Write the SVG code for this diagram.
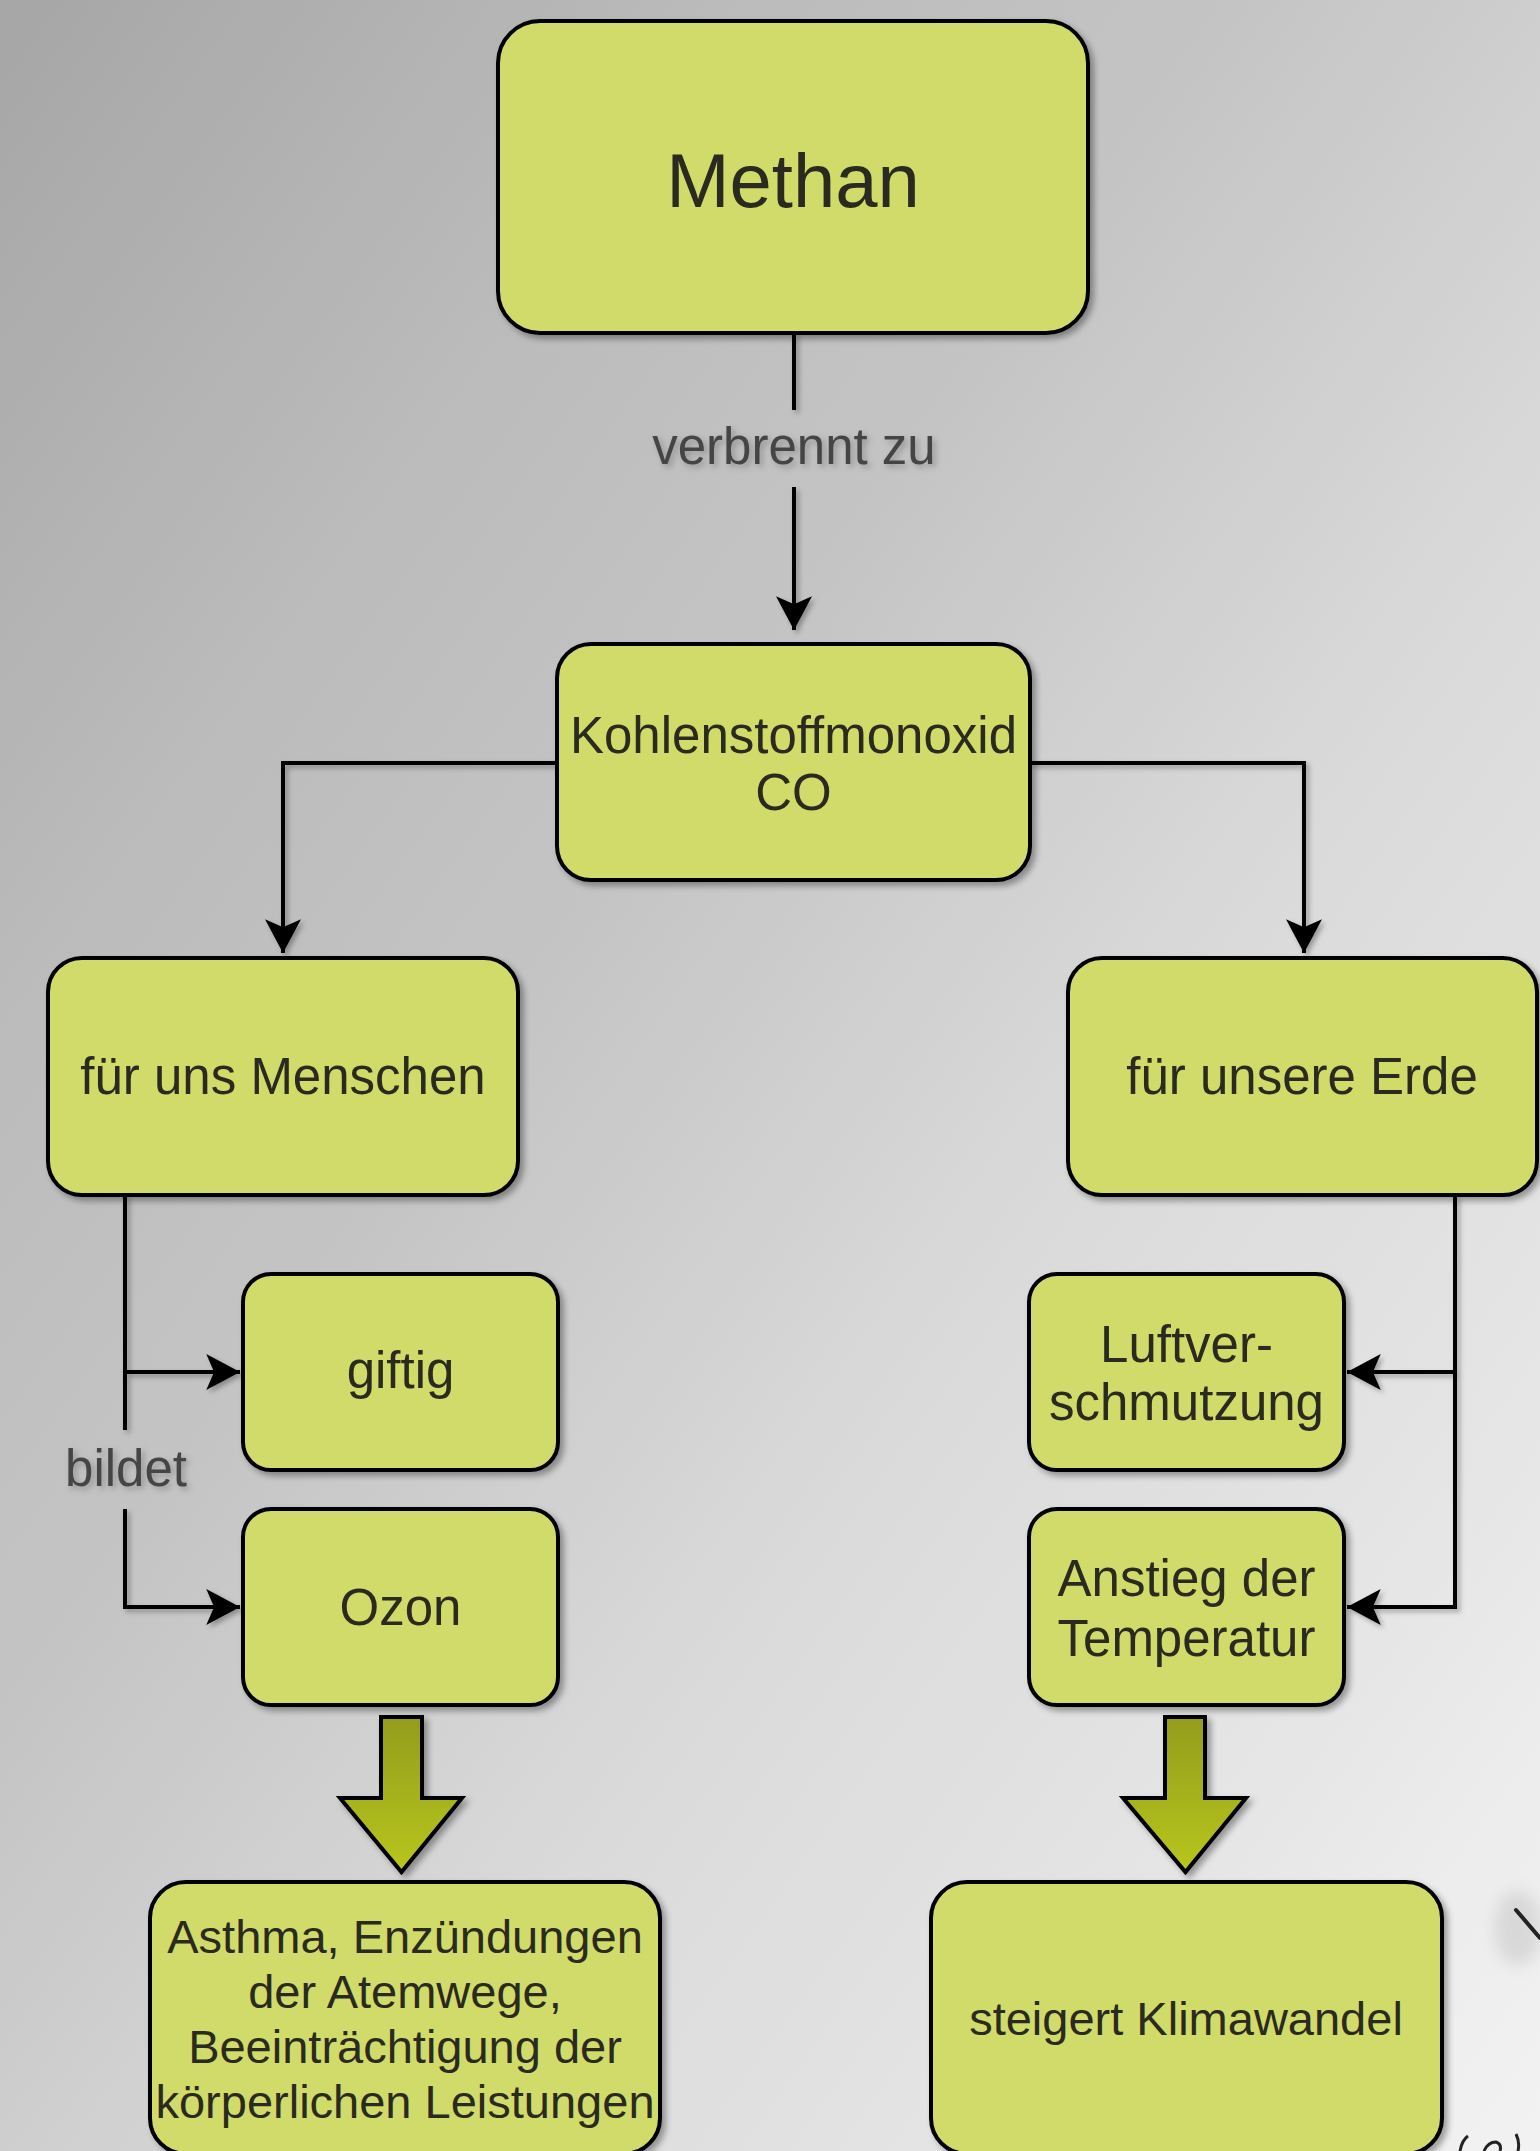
<svg xmlns="http://www.w3.org/2000/svg" width="1540" height="2151" viewBox="0 0 1540 2151">
<defs>
  <linearGradient id="bg" x1="0" y1="0" x2="1" y2="1">
    <stop offset="0" stop-color="#a6a6a6"/>
    <stop offset="0.25" stop-color="#bcbcbc"/>
    <stop offset="0.4" stop-color="#c4c4c4"/>
    <stop offset="0.52" stop-color="#d0d0d0"/>
    <stop offset="0.62" stop-color="#dadada"/>
    <stop offset="0.8" stop-color="#e4e4e4"/>
    <stop offset="0.93" stop-color="#eeeeee"/>
    <stop offset="1" stop-color="#f2f2f2"/>
  </linearGradient>
  <linearGradient id="blk" x1="0" y1="0" x2="0" y2="1">
    <stop offset="0" stop-color="#939d1f"/>
    <stop offset="1" stop-color="#b8c61a"/>
  </linearGradient>
  <filter id="sh" x="-10%" y="-10%" width="130%" height="130%">
    <feDropShadow dx="4" dy="4" stdDeviation="3" flood-color="#000" flood-opacity="0.35"/>
  </filter>
  <filter id="tsh" x="-20%" y="-40%" width="140%" height="180%">
    <feDropShadow dx="3" dy="3" stdDeviation="3" flood-color="#000" flood-opacity="0.25"/>
  </filter>
  <filter id="lsh" x="-50%" y="-50%" width="200%" height="200%">
    <feDropShadow dx="3" dy="3" stdDeviation="2.5" flood-color="#000" flood-opacity="0.3"/>
  </filter>
  <filter id="blur" x="-50%" y="-50%" width="200%" height="200%">
    <feGaussianBlur stdDeviation="8"/>
  </filter>
  <marker id="arr" markerUnits="userSpaceOnUse" markerWidth="34" markerHeight="36" viewBox="0 0 30 32" refX="30" refY="16" orient="auto">
    <path d="M0,0 L30,16 L0,32 L7,16 Z" fill="#000"/>
  </marker>
  <style>
    .box { fill: #d1db6b; stroke: #000; stroke-width: 4; filter: url(#sh); }
    .t { font-family: "Liberation Sans", Arial, sans-serif; font-size: 51px; fill: #2a2a20; text-anchor: middle; }
    .ts { font-size: 47px; }
    .lbl { font-family: "Liberation Sans", Arial, sans-serif; font-size: 51px; fill: #454545; text-anchor: middle; filter: url(#tsh); }
    .c { fill: none; stroke: #000; stroke-width: 4; }
    .big { fill: url(#blk); stroke: #000; stroke-width: 4; stroke-linejoin: miter; filter: url(#sh); }
  </style>
</defs>

<rect x="0" y="0" width="1540" height="2151" fill="url(#bg)"/>

<g id="connectors">
  <g filter="url(#lsh)">
    <path class="c" d="M794,333 V410"/>
    <path class="c" d="M794,487 V630" marker-end="url(#arr)"/>
    <path class="c" d="M557,763 H283 V953" marker-end="url(#arr)"/>
    <path class="c" d="M1030,763 H1304 V953" marker-end="url(#arr)"/>
    <path class="c" d="M125,1195 V1372 H240" marker-end="url(#arr)"/>
    <path class="c" d="M125,1372 V1430"/>
    <path class="c" d="M125,1509 V1607 H240" marker-end="url(#arr)"/>
    <path class="c" stroke="#3a3a3a" d="M1455,1195 V1607 H1347" marker-end="url(#arr)"/>
    <path class="c" d="M1455,1372 H1347" marker-end="url(#arr)"/>
  </g>
  <text class="lbl" x="794" y="464">verbrennt zu</text>
  <text class="lbl" x="126" y="1486">bildet</text>
</g>

<g id="node-methan">
  <rect class="box" x="498" y="21" width="590" height="312" rx="42" ry="42"/>
  <text class="t" x="793" y="207" style="font-size:76px">Methan</text>
</g>

<g id="node-co">
  <rect class="box" x="557" y="644" width="473" height="236" rx="34" ry="34"/>
  <text class="t" x="793.5" y="753">Kohlenstoffmonoxid</text>
  <text class="t" x="793.5" y="810">CO</text>
</g>

<g id="node-menschen">
  <rect class="box" x="48" y="958" width="470" height="237" rx="34" ry="34"/>
  <text class="t" x="283" y="1094">für uns Menschen</text>
</g>

<g id="node-erde">
  <rect class="box" x="1068" y="958" width="469" height="237" rx="34" ry="34"/>
  <text class="t" x="1302" y="1094">für unsere Erde</text>
</g>

<g id="node-giftig">
  <rect class="box" x="243" y="1274" width="315" height="196" rx="28" ry="28"/>
  <text class="t" x="400.5" y="1388">giftig</text>
</g>

<g id="node-ozon">
  <rect class="box" x="243" y="1509" width="315" height="196" rx="28" ry="28"/>
  <text class="t" x="400.5" y="1625">Ozon</text>
</g>

<g id="node-luft">
  <rect class="box" x="1029" y="1274" width="315" height="196" rx="28" ry="28"/>
  <text class="t" x="1186.5" y="1362">Luftver-</text>
  <text class="t" x="1186.5" y="1420">schmutzung</text>
</g>

<g id="node-temp">
  <rect class="box" x="1029" y="1509" width="315" height="196" rx="28" ry="28"/>
  <text class="t" x="1186.5" y="1596">Anstieg der</text>
  <text class="t" x="1186.5" y="1656">Temperatur</text>
</g>

<g id="arrow-left">
  <path class="big" d="M381,1717 H422 V1798 H462 L401.5,1872 L340,1798 H381 Z"/>
</g>

<g id="arrow-right">
  <path class="big" d="M1165,1717 H1205 V1798 H1246 L1185.5,1872 L1123,1798 H1165 Z"/>
</g>

<g id="node-asthma">
  <rect class="box" x="150" y="1882" width="510" height="272" rx="36" ry="36"/>
  <text class="t ts" x="405" y="1953">Asthma, Enzündungen</text>
  <text class="t ts" x="405" y="2008">der Atemwege,</text>
  <text class="t ts" x="405" y="2063">Beeinträchtigung der</text>
  <text class="t ts" x="405" y="2118">körperlichen Leistungen</text>
</g>

<g id="node-klima">
  <rect class="box" x="931" y="1882" width="511" height="272" rx="36" ry="36"/>
  <text class="t ts" x="1186" y="2035">steigert Klimawandel</text>
</g>

<g id="scribbles">
  <ellipse cx="1518" cy="1928" rx="24" ry="38" fill="#b0b0b0" opacity="0.35" filter="url(#blur)"/>
  <path d="M1516,1910 L1540,1938" stroke="#222" stroke-width="4" fill="none" stroke-linecap="round"/>
  <path d="M1460,2151 Q1462,2140 1468,2136" stroke="#222" stroke-width="3" fill="none"/>
  <path d="M1484,2151 Q1488,2142 1496,2142 Q1502,2144 1500,2151" stroke="#222" stroke-width="3" fill="none"/>
  <path d="M1516,2134 Q1520,2142 1518,2151" stroke="#222" stroke-width="3" fill="none"/>
</g>
</svg>
